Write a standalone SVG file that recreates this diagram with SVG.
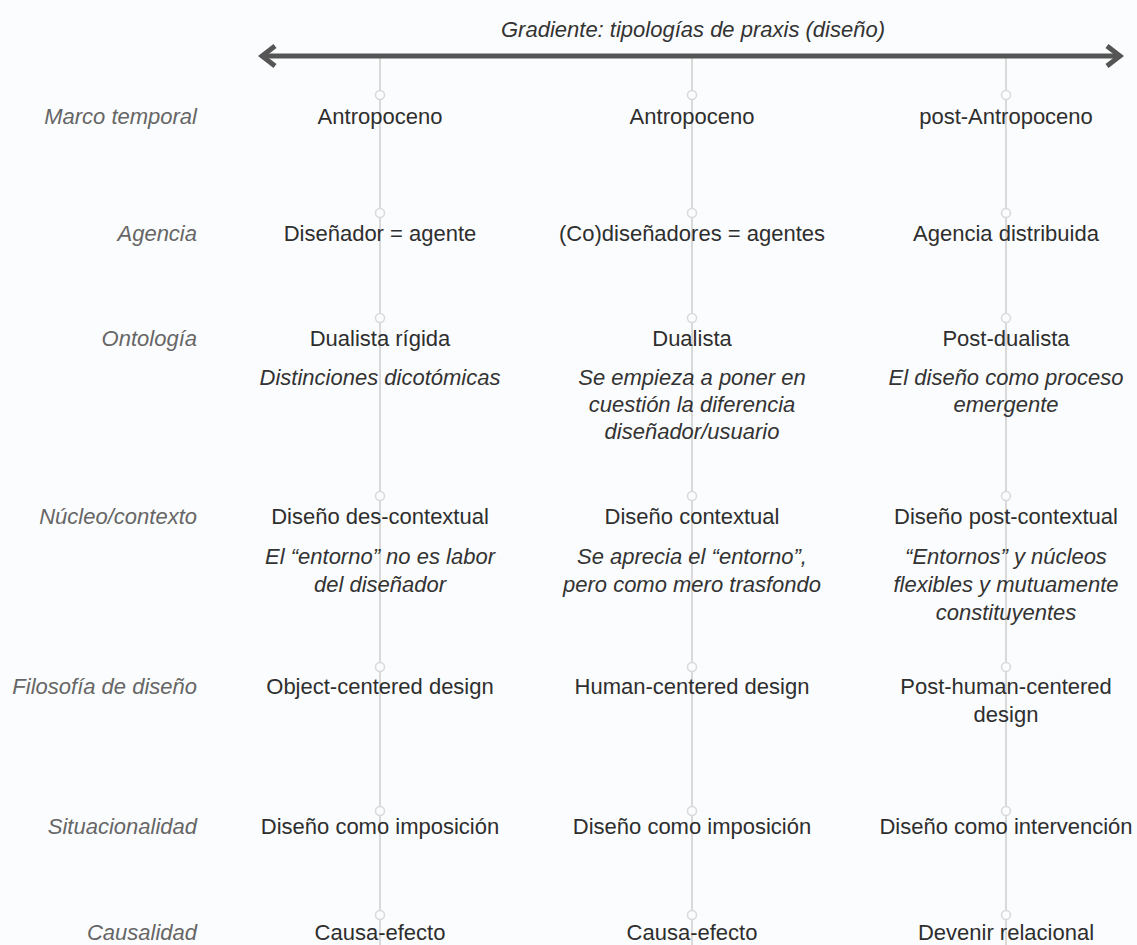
<svg xmlns="http://www.w3.org/2000/svg" width="1137" height="945" viewBox="0 0 1137 945">
<defs>
<style>
text{font-family:"Liberation Sans",Arial,Helvetica,sans-serif;font-size:22px;}
.lbl{fill:#666;font-style:italic;text-anchor:end;}
.t{fill:#2e2e2e;text-anchor:middle;}
.d{fill:#333;font-style:italic;text-anchor:middle;}
.title{fill:#333;font-style:italic;text-anchor:middle;}
.vl{stroke:#d9d9d9;stroke-width:2;fill:none;}
.dot{fill:#fbfcfd;stroke:#d9d9d9;stroke-width:1.5;}
.axis{stroke:#555;stroke-width:5;fill:none;}
</style>
<marker id="chev" viewBox="0 0 20 24" refX="16" refY="12" markerWidth="20" markerHeight="24" markerUnits="userSpaceOnUse" orient="auto-start-reverse">
<path d="M3,2 L16,12 L3,22" fill="none" stroke="#555" stroke-width="5" stroke-linecap="butt" stroke-linejoin="miter"/>
</marker>
</defs>
<rect width="1137" height="945" fill="#fbfcfd"/>

<g id="connectors">
<line class="vl" x1="380" y1="56" x2="380" y2="945"/>
<line class="vl" x1="692" y1="56" x2="692" y2="945"/>
<line class="vl" x1="1006" y1="56" x2="1006" y2="945"/>
<line class="axis" x1="262" y1="56" x2="1120" y2="56" marker-start="url(#chev)" marker-end="url(#chev)"/>
<g id="dots">
<circle class="dot" cx="380" cy="95" r="4.5"/><circle class="dot" cx="692" cy="95" r="4.5"/><circle class="dot" cx="1006" cy="95" r="4.5"/>
<circle class="dot" cx="380" cy="213" r="4.5"/><circle class="dot" cx="692" cy="213" r="4.5"/><circle class="dot" cx="1006" cy="213" r="4.5"/>
<circle class="dot" cx="380" cy="318" r="4.5"/><circle class="dot" cx="692" cy="318" r="4.5"/><circle class="dot" cx="1006" cy="318" r="4.5"/>
<circle class="dot" cx="380" cy="496" r="4.5"/><circle class="dot" cx="692" cy="496" r="4.5"/><circle class="dot" cx="1006" cy="496" r="4.5"/>
<circle class="dot" cx="380" cy="667" r="4.5"/><circle class="dot" cx="692" cy="667" r="4.5"/><circle class="dot" cx="1006" cy="667" r="4.5"/>
<circle class="dot" cx="380" cy="811" r="4.5"/><circle class="dot" cx="692" cy="811" r="4.5"/><circle class="dot" cx="1006" cy="811" r="4.5"/>
<circle class="dot" cx="380" cy="915" r="4.5"/><circle class="dot" cx="692" cy="915" r="4.5"/><circle class="dot" cx="1006" cy="915" r="4.5"/>
</g>
</g>

<g id="title"><text class="title" x="693" y="37">Gradiente: tipologías de praxis (diseño)</text></g>

<g id="labels">
<text class="lbl" x="197" y="124">Marco temporal</text>
<text class="lbl" x="197" y="241">Agencia</text>
<text class="lbl" x="197" y="346">Ontología</text>
<text class="lbl" x="197" y="524">Núcleo/contexto</text>
<text class="lbl" x="197" y="694">Filosofía de diseño</text>
<text class="lbl" x="197" y="834">Situacionalidad</text>
<text class="lbl" x="197" y="940">Causalidad</text>
</g>

<g id="row-marco">
<g id="marco-1"><text class="t" x="380" y="124">Antropoceno</text></g>
<g id="marco-2"><text class="t" x="692" y="124">Antropoceno</text></g>
<g id="marco-3"><text class="t" x="1006" y="124">post-Antropoceno</text></g>
</g>
<g id="row-agencia">
<g id="agencia-1"><text class="t" x="380" y="241">Diseñador = agente</text></g>
<g id="agencia-2"><text class="t" x="692" y="241">(Co)diseñadores = agentes</text></g>
<g id="agencia-3"><text class="t" x="1006" y="241">Agencia distribuida</text></g>
</g>
<g id="row-ontologia">
<g id="onto-1"><text class="t" x="380" y="346">Dualista rígida</text>
<text class="d" x="380" y="385">Distinciones dicotómicas</text></g>
<g id="onto-2"><text class="t" x="692" y="346">Dualista</text>
<text class="d" x="692" y="385">Se empieza a poner en</text>
<text class="d" x="692" y="412">cuestión la diferencia</text>
<text class="d" x="692" y="439">diseñador/usuario</text></g>
<g id="onto-3"><text class="t" x="1006" y="346">Post-dualista</text>
<text class="d" x="1006" y="385">El diseño como proceso</text>
<text class="d" x="1006" y="412">emergente</text></g>
</g>
<g id="row-nucleo">
<g id="nucleo-1"><text class="t" x="380" y="524">Diseño des-contextual</text>
<text class="d" x="380" y="564">El “entorno” no es labor</text>
<text class="d" x="380" y="592">del diseñador</text></g>
<g id="nucleo-2"><text class="t" x="692" y="524">Diseño contextual</text>
<text class="d" x="692" y="564">Se aprecia el “entorno”,</text>
<text class="d" x="692" y="592">pero como mero trasfondo</text></g>
<g id="nucleo-3"><text class="t" x="1006" y="524">Diseño post-contextual</text>
<text class="d" x="1006" y="564">“Entornos” y núcleos</text>
<text class="d" x="1006" y="592">flexibles y mutuamente</text>
<text class="d" x="1006" y="620">constituyentes</text></g>
</g>
<g id="row-filosofia">
<g id="filo-1"><text class="t" x="380" y="694">Object-centered design</text></g>
<g id="filo-2"><text class="t" x="692" y="694">Human-centered design</text></g>
<g id="filo-3"><text class="t" x="1006" y="694">Post-human-centered</text>
<text class="t" x="1006" y="722">design</text></g>
</g>
<g id="row-situacionalidad">
<g id="sit-1"><text class="t" x="380" y="834">Diseño como imposición</text></g>
<g id="sit-2"><text class="t" x="692" y="834">Diseño como imposición</text></g>
<g id="sit-3"><text class="t" x="1006" y="834">Diseño como intervención</text></g>
</g>
<g id="row-causalidad">
<g id="caus-1"><text class="t" x="380" y="940">Causa-efecto</text></g>
<g id="caus-2"><text class="t" x="692" y="940">Causa-efecto</text></g>
<g id="caus-3"><text class="t" x="1006" y="940">Devenir relacional</text></g>
</g>
</svg>
